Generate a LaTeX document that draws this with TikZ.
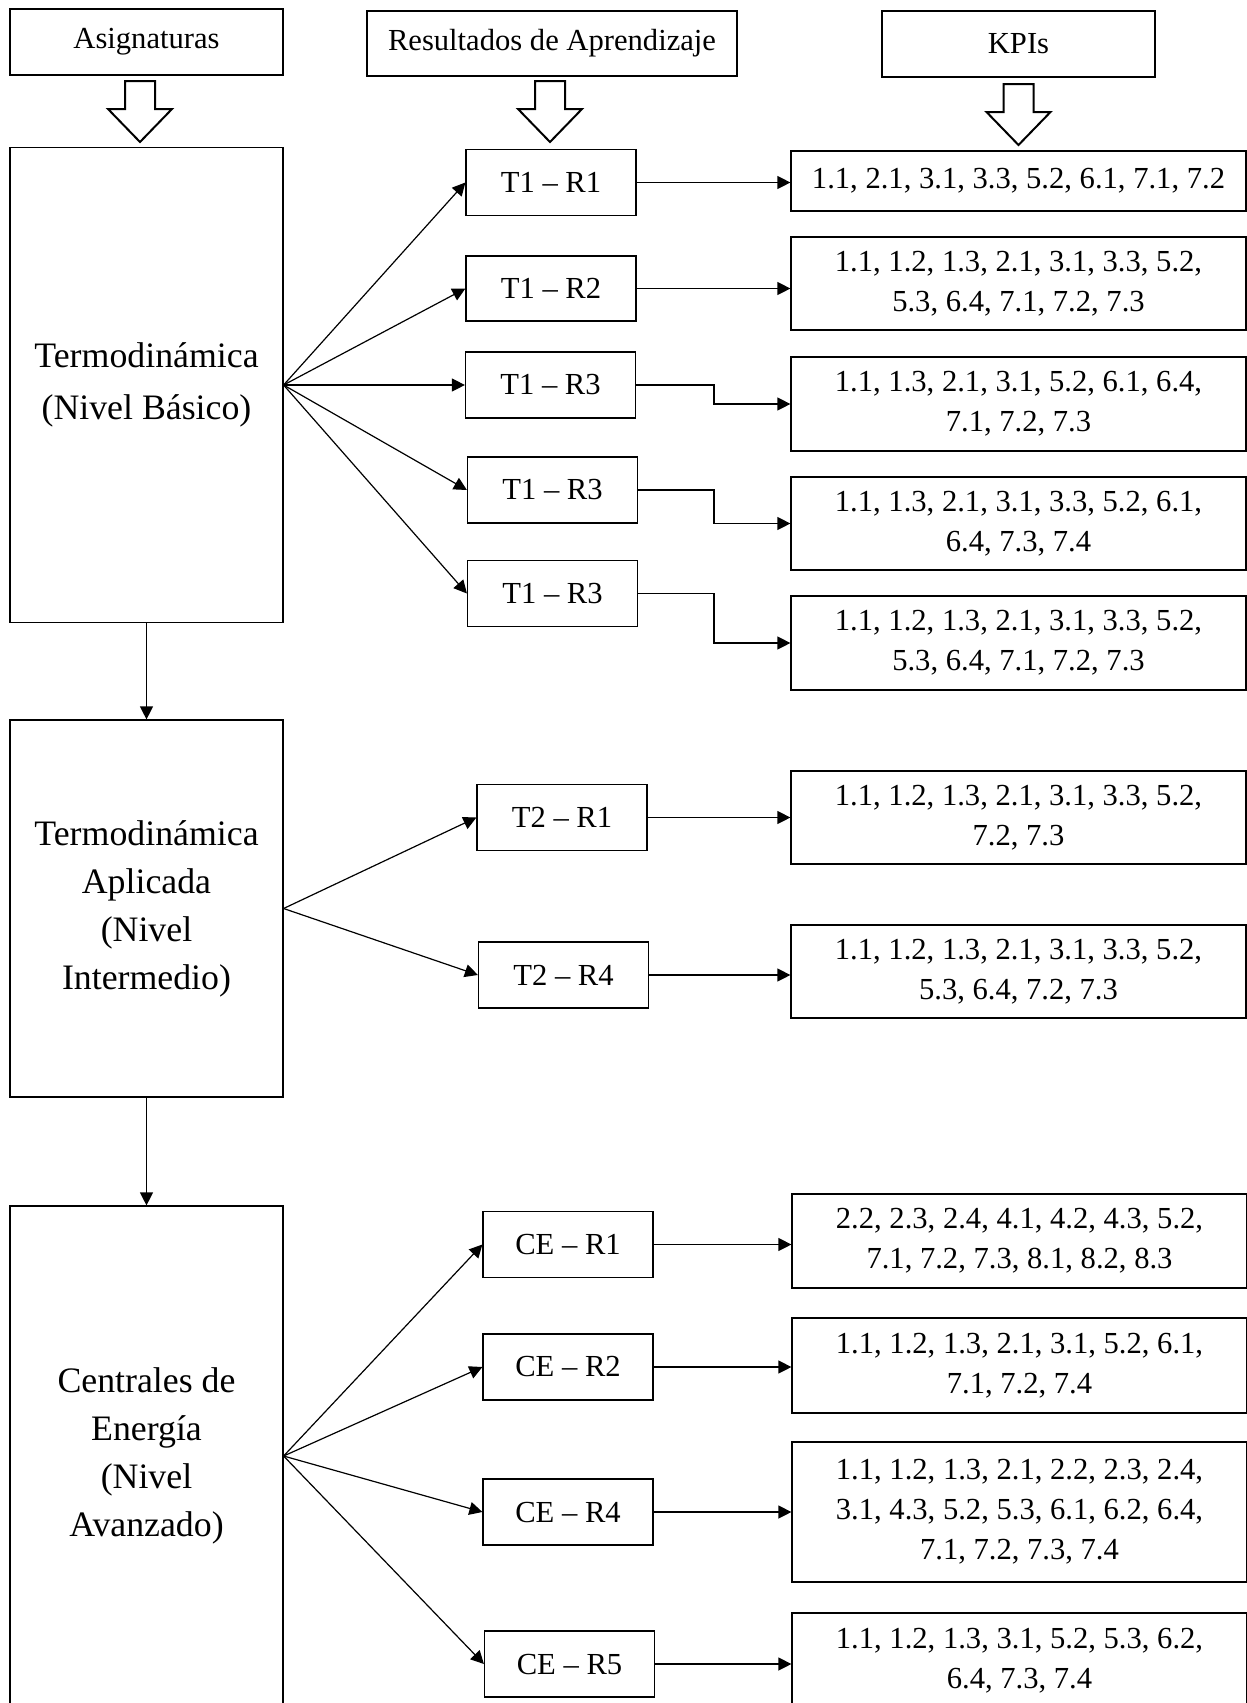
\documentclass[tikz,border=0pt]{standalone}
\usepackage{fontspec}
\setmainfont{Liberation Serif}
\usetikzlibrary{arrows.meta}
\newcommand\smallfs{\fontsize{15.3}{20}\selectfont}
\newcommand\bigfs{\fontsize{17.9}{24}\selectfont}
\newcommand\bigfsb{\fontsize{17.9}{26}\selectfont}
\begin{document}
\begin{tikzpicture}[x=0.5pt,y=-0.5pt,
  box/.style={draw,line width=0.6pt,inner sep=0pt,align=center,font=\smallfs},
  bigbox/.style={box,font=\bigfs,minimum width=136.5pt},
  rbox/.style={box,minimum width=85pt,minimum height=33pt},
  kbox/.style={box,minimum width=227.5pt},
  arr/.style={line width=0.6pt,-{Triangle[length=6.5pt,width=6.5pt]}},
  hollow/.style={draw,line width=1pt,line join=miter}]
\useasboundingbox (0,0) rectangle (1247,1703);
\clip (0,0) rectangle (1247,1703);

% headers
\node[box,minimum width=136.5pt,minimum height=33pt] (h1) at (146.5,42) {Asignaturas};
\node[box,minimum width=185pt,minimum height=32.5pt] (h2) at (552,43.5) {Resultados de Aprendizaje};
\node[box,minimum width=136.5pt,minimum height=33pt] (h3) at (1018.5,44) {KPIs};

% hollow block arrows
\foreach \cx/\ty in {140/81, 550/81, 1018.5/84}{
  \draw[hollow] (\cx-15,\ty) -- (\cx+15,\ty) -- (\cx+15,\ty+28) -- (\cx+32,\ty+28)
     -- (\cx,\ty+61) -- (\cx-32,\ty+28) -- (\cx-15,\ty+28) -- cycle;
}

% subjects
\node[bigbox,font=\bigfsb,minimum height=237.5pt] (b1) at (146.5,385) {Termodinámica\\(Nivel Básico)};
\node[bigbox,minimum height=188.5pt] (b2) at (146.5,908.5) {Termodinámica\\Aplicada\\(Nivel\\Intermedio)};
\node[bigbox,minimum height=250pt] (b3) at (146.5,1456) {Centrales de\\Energía\\(Nivel\\Avanzado)};

% learning outcomes
\node[rbox] (t11) at (551,182.5) {T1 – R1};
\node[rbox,minimum height=32.5pt] (t12) at (551,288.5) {T1 – R2};
\node[rbox] (t13a) at (550.5,385) {T1 – R3};
\node[rbox] (t13b) at (552.5,490) {T1 – R3};
\node[rbox] (t13c) at (552.5,593.5) {T1 – R3};
\node[rbox] (t21) at (562,817.5) {T2 – R1};
\node[rbox] (t24) at (563.5,975) {T2 – R4};
\node[rbox] (ce1) at (568,1244.5) {CE – R1};
\node[rbox] (ce2) at (568,1367) {CE – R2};
\node[rbox] (ce4) at (568,1512) {CE – R4};
\node[rbox] (ce5) at (569.5,1664) {CE – R5};

% KPIs
\node[kbox,minimum height=30pt] (k1) at (1018.5,181) {1.1, 2.1, 3.1, 3.3, 5.2, 6.1, 7.1, 7.2};
\node[kbox,minimum height=46.5pt] (k2) at (1018.5,283.5) {1.1, 1.2, 1.3, 2.1, 3.1, 3.3, 5.2,\\5.3, 6.4, 7.1, 7.2, 7.3};
\node[kbox,minimum height=47pt] (k3) at (1018.5,404) {1.1, 1.3, 2.1, 3.1, 5.2, 6.1, 6.4,\\7.1, 7.2, 7.3};
\node[kbox,minimum height=46.5pt] (k4) at (1018.5,523.5) {1.1, 1.3, 2.1, 3.1, 3.3, 5.2, 6.1,\\6.4, 7.3, 7.4};
\node[kbox,minimum height=47pt] (k5) at (1018.5,643) {1.1, 1.2, 1.3, 2.1, 3.1, 3.3, 5.2,\\5.3, 6.4, 7.1, 7.2, 7.3};
\node[kbox,minimum height=46.5pt] (k6) at (1018.5,817.5) {1.1, 1.2, 1.3, 2.1, 3.1, 3.3, 5.2,\\7.2, 7.3};
\node[kbox,minimum height=46.5pt] (k7) at (1018.5,971.5) {1.1, 1.2, 1.3, 2.1, 3.1, 3.3, 5.2,\\5.3, 6.4, 7.2, 7.3};
\node[kbox,minimum height=47pt] (k8) at (1019.5,1241) {2.2, 2.3, 2.4, 4.1, 4.2, 4.3, 5.2,\\7.1, 7.2, 7.3, 8.1, 8.2, 8.3};
\node[kbox,minimum height=47.5pt] (k9) at (1019.5,1365.5) {1.1, 1.2, 1.3, 2.1, 3.1, 5.2, 6.1,\\7.1, 7.2, 7.4};
\node[kbox,minimum height=70pt] (k10) at (1019.5,1512) {1.1, 1.2, 1.3, 2.1, 2.2, 2.3, 2.4,\\3.1, 4.3, 5.2, 5.3, 6.1, 6.2, 6.4,\\7.1, 7.2, 7.3, 7.4};
\node[kbox,minimum height=48pt] (k11) at (1019.5,1661) {1.1, 1.2, 1.3, 3.1, 5.2, 5.3, 6.2,\\6.4, 7.3, 7.4};

% vertical connectors between subjects
\draw[arr] (b1.south) -- (b2.north);
\draw[arr] (b2.south) -- (b3.north);

% fans
\foreach \t in {t11,t12,t13a,t13b,t13c} \draw[arr] (b1.east) -- (\t.west);
\foreach \t in {t21,t24} \draw[arr] (b2.east) -- (\t.west);
\foreach \t in {ce1,ce2,ce4,ce5} \draw[arr] (b3.east) -- (\t.west);

% outcomes to KPIs
\draw[arr] (t11.east) -- (t11.east -| k1.west);
\draw[arr] (t12.east) -- (t12.east -| k2.west);
\coordinate (ex) at (714,0);
\draw[arr] (t13a.east) -- (t13a.east -| ex) |- (k3.west);
\draw[arr] (t13b.east) -- (t13b.east -| ex) |- (k4.west);
\draw[arr] (t13c.east) -- (t13c.east -| ex) |- (k5.west);
\draw[arr] (t21.east) -- (t21.east -| k6.west);
\draw[arr] (t24.east) -- (t24.east -| k7.west);
\draw[arr] (ce1.east) -- (ce1.east -| k8.west);
\draw[arr] (ce2.east) -- (ce2.east -| k9.west);
\draw[arr] (ce4.east) -- (ce4.east -| k10.west);
\draw[arr] (ce5.east) -- (ce5.east -| k11.west);
\end{tikzpicture}
\end{document}
